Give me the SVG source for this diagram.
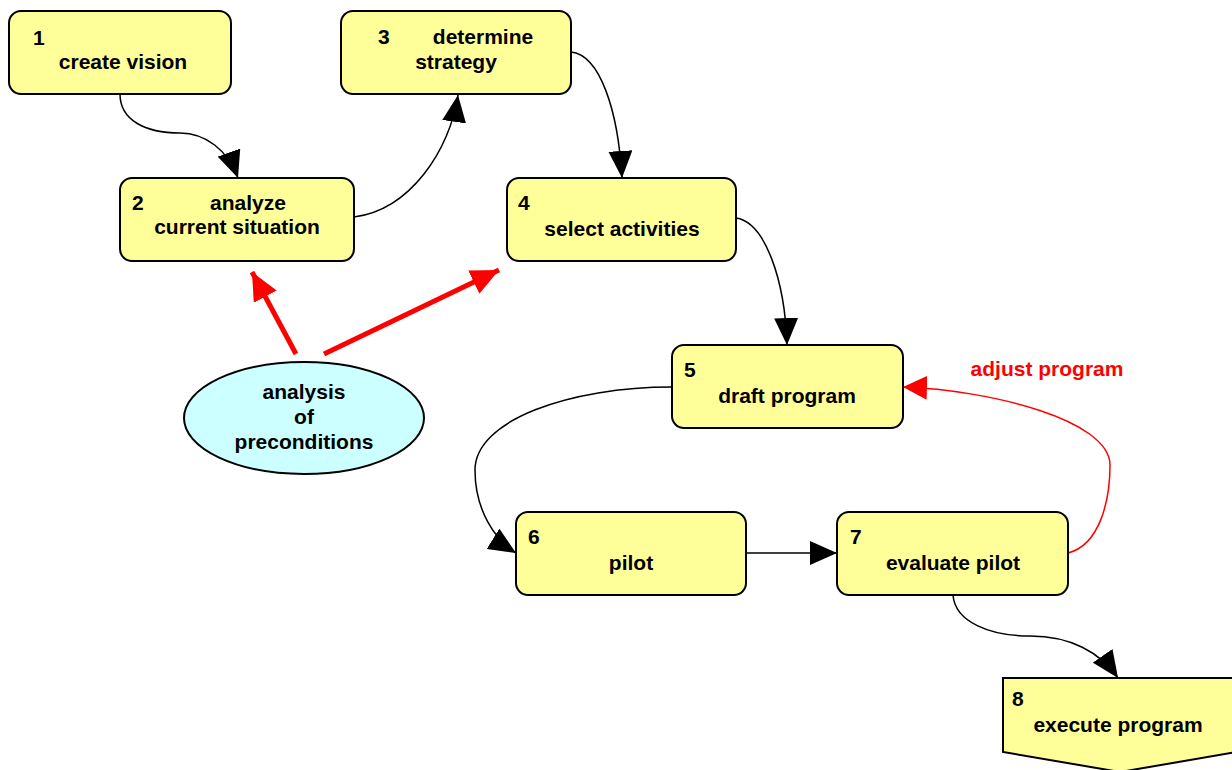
<svg xmlns="http://www.w3.org/2000/svg" width="1232" height="770" viewBox="0 0 1232 770">
<style>
.box{fill:#ffff99;stroke:#000;stroke-width:2}
.ell{fill:#ccffff;stroke:#000;stroke-width:2}
text{font-family:"Liberation Sans",Arial,sans-serif;font-weight:bold;font-size:21px;fill:#000}
.c{text-anchor:middle}
.red{fill:#ff0000}
.blk{fill:none;stroke:#000;stroke-width:1.5}
.rl{fill:none;stroke:#ff0000;stroke-width:1.5}
.rt{fill:none;stroke:#ff0000;stroke-width:5}
</style>
<defs>
<marker id="ab" viewBox="0 0 27 24" refX="27" refY="12" markerWidth="27" markerHeight="24" markerUnits="userSpaceOnUse" orient="auto"><path d="M0,0 L27,12 L0,24 Z" fill="#000"/></marker>
<marker id="ar" viewBox="0 0 24 24" refX="24" refY="12" markerWidth="24" markerHeight="24" markerUnits="userSpaceOnUse" orient="auto"><path d="M0,0 L24,12 L0,24 Z" fill="#ff0000"/></marker>
<marker id="art" viewBox="0 0 28 26" refX="28" refY="13" markerWidth="28" markerHeight="26" markerUnits="userSpaceOnUse" orient="auto"><path d="M0,0 L28,13 L0,26 Z" fill="#ff0000"/></marker>
</defs>
<g id="connectors">
<path class="blk" d="M120,94 C120,120 145,133 180,133 C205,133 228,150 238,178" marker-end="url(#ab)"/>
<path class="blk" d="M354,217 C410,210 450,150 458,95" marker-end="url(#ab)"/>
<path class="blk" d="M571,52 C600,55 618,110 622,178" marker-end="url(#ab)"/>
<path class="blk" d="M736,218 C765,222 785,280 787,345" marker-end="url(#ab)"/>
<path class="blk" d="M672,387 C570,387 475,420 475,470 C475,510 495,540 516,553" marker-end="url(#ab)"/>
<path class="blk" d="M746,553 L837,553" marker-end="url(#ab)"/>
<path class="rl" d="M1068,553 C1100,545 1110,500 1110,465 C1110,420 990,390 903,387" marker-end="url(#ar)"/>
<path class="blk" d="M953,595 C955,622 990,636 1030,636 C1070,636 1100,652 1118,678" marker-end="url(#ab)"/>
<path class="rt" d="M296,354 L252,272" marker-end="url(#art)"/>
<path class="rt" d="M324,354 L499,270" marker-end="url(#art)"/>
<text class="red c" x="1047" y="376">adjust program</text>
</g>
<g id="n1"><rect class="box" x="9" y="11" width="222" height="83" rx="12"/><text x="33" y="45">1</text><text class="c" x="123" y="69">create vision</text></g>
<g id="n2"><rect class="box" x="120" y="178" width="234" height="83" rx="12"/><text x="132" y="210">2</text><text class="c" x="248" y="210">analyze</text><text class="c" x="237" y="234">current situation</text></g>
<g id="n3"><rect class="box" x="341" y="11" width="230" height="83" rx="12"/><text x="378" y="44">3</text><text class="c" x="483" y="44">determine</text><text class="c" x="456" y="69">strategy</text></g>
<g id="n4"><rect class="box" x="507" y="178" width="229" height="83" rx="12"/><text x="518" y="210">4</text><text class="c" x="622" y="236">select activities</text></g>
<g id="n5"><rect class="box" x="672" y="345" width="231" height="83" rx="12"/><text x="684" y="377">5</text><text class="c" x="787" y="403">draft program</text></g>
<g id="n6"><rect class="box" x="516" y="512" width="230" height="83" rx="12"/><text x="528" y="544">6</text><text class="c" x="631" y="570">pilot</text></g>
<g id="n7"><rect class="box" x="837" y="512" width="231" height="83" rx="12"/><text x="850" y="544">7</text><text class="c" x="953" y="570">evaluate pilot</text></g>
<g id="n8"><path class="box" d="M1003,678 L1237,678 L1237,752 L1120,772 L1003,752 Z"/><text x="1012" y="706">8</text><text class="c" x="1118" y="732">execute program</text></g>
<g id="n9"><ellipse class="ell" cx="304" cy="418" rx="120" ry="56"/><text class="c" x="304" y="399">analysis</text><text class="c" x="304" y="424">of</text><text class="c" x="304" y="449">preconditions</text></g>
</svg>
